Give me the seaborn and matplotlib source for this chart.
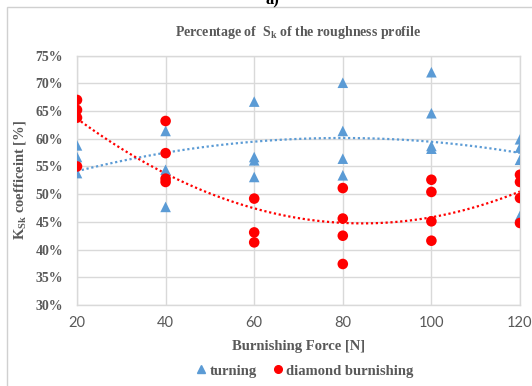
import numpy as np
import pandas as pd
import matplotlib
matplotlib.use("Agg")
import matplotlib.pyplot as plt
from matplotlib.lines import Line2D
from matplotlib.patches import Rectangle
import seaborn as sns

# Burnishing force levels and measured K_Sk share [%] per process
force_turning = [20, 20, 20,
                 40, 40, 40,
                 60, 60, 60, 60,
                 80, 80, 80, 80,
                 100, 100, 100, 100,
                 120, 120, 120, 120]
ksk_turning = [58.8, 56.7, 53.8,
               61.4, 54.4, 47.7,
               66.7, 56.7, 56.1, 53.1,
               70.1, 61.4, 56.4, 53.4,
               72.0, 64.6, 58.7, 58.2,
               59.9, 58.4, 56.2, 46.1]

force_burnishing = [20, 20, 20, 20,
                    40, 40, 40, 40,
                    60, 60, 60,
                    80, 80, 80, 80,
                    100, 100, 100, 100,
                    120, 120, 120, 120]
ksk_burnishing = [67.0, 65.2, 63.8, 55.0,
                  63.2, 57.4, 52.8, 52.2,
                  49.2, 43.1, 41.3,
                  51.1, 45.6, 42.5, 37.4,
                  52.6, 50.4, 45.1, 41.6,
                  53.5, 52.2, 49.3, 44.8]

series_names = ["turning", "diamond burnishing"]
x_ticks = [20, 40, 60, 80, 100, 120]
y_ticks = [30, 35, 40, 45, 50, 55, 60, 65, 70, 75]

BLUE = "#5B9BD5"
RED = "#FF0000"
GRID = "#D9D9D9"
TEXT = "#595959"
SERIF = ["Liberation Serif", "DejaVu Serif"]

df = pd.DataFrame({
    "force": force_turning + force_burnishing,
    "ksk": ksk_turning + ksk_burnishing,
    "process": [series_names[0]] * len(force_turning) + [series_names[1]] * len(force_burnishing),
})

sns.set_theme(style="white")
fig = plt.figure(figsize=(5.32, 3.86), dpi=100)
W, H = 532, 386
ax = fig.add_axes([77 / W, 1 - 305 / H, (520 - 77) / W, (305 - 55.6) / H])

# chart frame
fig.patches.append(Rectangle((7 / W, -0.05), 1.2, 1 - 7 / H + 0.05, transform=fig.transFigure,
                             fill=False, edgecolor="#D0D0D0", linewidth=1.0, zorder=0))
fig.text(272 / W, 1 - 4 / H, "a)", fontsize=12, fontweight="bold", family=SERIF,
         color="black", ha="center", va="baseline")

# quadratic trend lines
sns.regplot(data=df[df.process == series_names[0]], x="force", y="ksk", order=2, ci=None,
            scatter=False, ax=ax,
            line_kws=dict(color=BLUE, linewidth=1.6, linestyle=(0, (1, 1.2)), zorder=2))
sns.regplot(data=df[df.process == series_names[1]], x="force", y="ksk", order=2, ci=None,
            scatter=False, ax=ax,
            line_kws=dict(color=RED, linewidth=1.6, linestyle=(0, (1, 1.2)), zorder=2))

sns.scatterplot(data=df, x="force", y="ksk", hue="process", style="process",
                palette={series_names[0]: BLUE, series_names[1]: RED},
                markers={series_names[0]: "^", series_names[1]: "o"},
                s=58, linewidth=0, ax=ax, legend=False, zorder=3)

ax.set_xlim(20, 120)
ax.set_ylim(30, 75)
ax.set_xticks(x_ticks)
ax.set_yticks(y_ticks)
ax.set_xticklabels([str(v) for v in x_ticks], family=["Lato", "DejaVu Sans"], fontsize=10.5, color=TEXT)
ax.set_yticklabels([f"{v}%" for v in y_ticks], family=SERIF, fontweight="bold", fontsize=10, color=TEXT)
ax.tick_params(axis="x", length=0, pad=8)
ax.tick_params(axis="y", length=0, pad=10)
ax.grid(True, color=GRID, linewidth=1.0)
ax.set_axisbelow(True)
for sp in ax.spines.values():
    sp.set_color(GRID)
    sp.set_linewidth(1.0)

ax.set_xlabel("Burnishing Force [N]", family=SERIF, fontweight="bold", fontsize=10.5,
              color=TEXT, labelpad=7)
ax.set_ylabel(r"K$_{\mathregular{Sk}}$ coefficeint [%]", family=SERIF, fontweight="bold",
              fontsize=10.5, color=TEXT, labelpad=5)
ax.set_title(r"Percentage of  S$_{\mathregular{k}}$ of the roughness profile", family=SERIF,
             fontweight="bold", fontsize=10, color=TEXT, pad=14)

handles = [Line2D([], [], marker="^", linestyle="none", color=BLUE, markersize=5.5),
           Line2D([], [], marker="o", linestyle="none", color=RED, markersize=5.5)]
fig.legend(handles, series_names, loc="center", bbox_to_anchor=(303 / W, 1 - 371 / H),
           ncol=2, frameon=False, handletextpad=0.0, handlelength=1.2, columnspacing=0.8,
           prop=dict(family=SERIF, weight="bold", size=10.5), labelcolor=TEXT)

fig.savefig("out.png", dpi=100)
